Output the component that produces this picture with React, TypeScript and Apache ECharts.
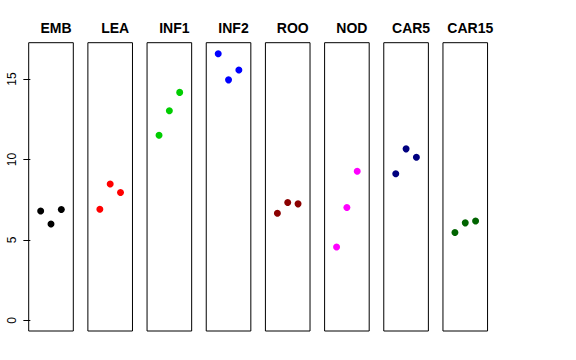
import React, { useEffect, useRef } from "react";
import * as echarts from "echarts";

const panels = ["EMB", "LEA", "INF1", "INF2", "ROO", "NOD", "CAR5", "CAR15"];
const xPositions = [1, 2, 3];
const EMB = [6.8, 5.99, 6.89];
const LEA = [6.91, 8.48, 7.95];
const INF1 = [11.51, 13.03, 14.17];
const INF2 = [16.57, 14.95, 15.56];
const ROO = [6.66, 7.32, 7.24];
const NOD = [4.56, 7.01, 9.27];
const CAR5 = [9.11, 10.66, 10.14];
const CAR15 = [5.46, 6.06, 6.18];
const panelValues = [EMB, LEA, INF1, INF2, ROO, NOD, CAR5, CAR15];
const colors = ["#000000", "#FF0000", "#00CD00", "#0000FF", "#8B0000", "#FF00FF", "#000080", "#006400"];
const yTicks = [0, 5, 10, 15];

export default function App() {
  const ref = useRef<HTMLDivElement>(null);
  useEffect(() => {
    if (!ref.current) return;
    const chart = echarts.init(ref.current, null, { renderer: "svg" });
    const left0 = 28.7;
    const step = 59.18;
    const w = 44.6;
    const top = 42.7;
    const h = 288.3;
    const grids: any[] = [];
    const xAxes: any[] = [];
    const yAxes: any[] = [];
    const series: any[] = [];
    const titles: any[] = [];
    panels.forEach((name, i) => {
      const left = left0 + i * step;
      grids.push({ left, top, width: w, height: h, show: true, borderColor: "#000", borderWidth: 1, backgroundColor: "transparent" });
      xAxes.push({ type: "value", gridIndex: i, min: -0.16, max: 4.16, show: false });
      yAxes.push({
        type: "value",
        gridIndex: i,
        min: -0.664,
        max: 17.26,
        show: i === 0,
        splitLine: { show: false },
        axisLine: { show: false },
        axisTick: { show: true, length: 7, customValues: yTicks, lineStyle: { color: "#000" } },
        axisLabel: {
          show: true,
          customValues: yTicks,
          rotate: 90,
          fontSize: 12,
          fontFamily: "Liberation Sans, Arial, sans-serif",
          color: "#000",
          margin: 11,
        },
      });
      series.push({
        type: "scatter",
        xAxisIndex: i,
        yAxisIndex: i,
        symbol: "circle",
        symbolSize: 7,
        itemStyle: { color: colors[i], opacity: 1 },
        data: xPositions.map((x, j) => [x, panelValues[i][j]]),
      });
      titles.push({
        text: name,
        left: left + w / 2,
        top: 16,
        textAlign: "center",
        textStyle: { fontSize: 14, fontWeight: "bold", fontFamily: "Liberation Sans, Arial, sans-serif", color: "#000" },
      });
    });
    chart.setOption({
      animation: false,
      backgroundColor: "#fff",
      title: titles,
      grid: grids,
      xAxis: xAxes,
      yAxis: yAxes,
      series,
    });
    return () => chart.dispose();
  }, []);
  return <div ref={ref} style={{ position: "fixed", left: 0, top: 0, width: 576, height: 360 }} />;
}
